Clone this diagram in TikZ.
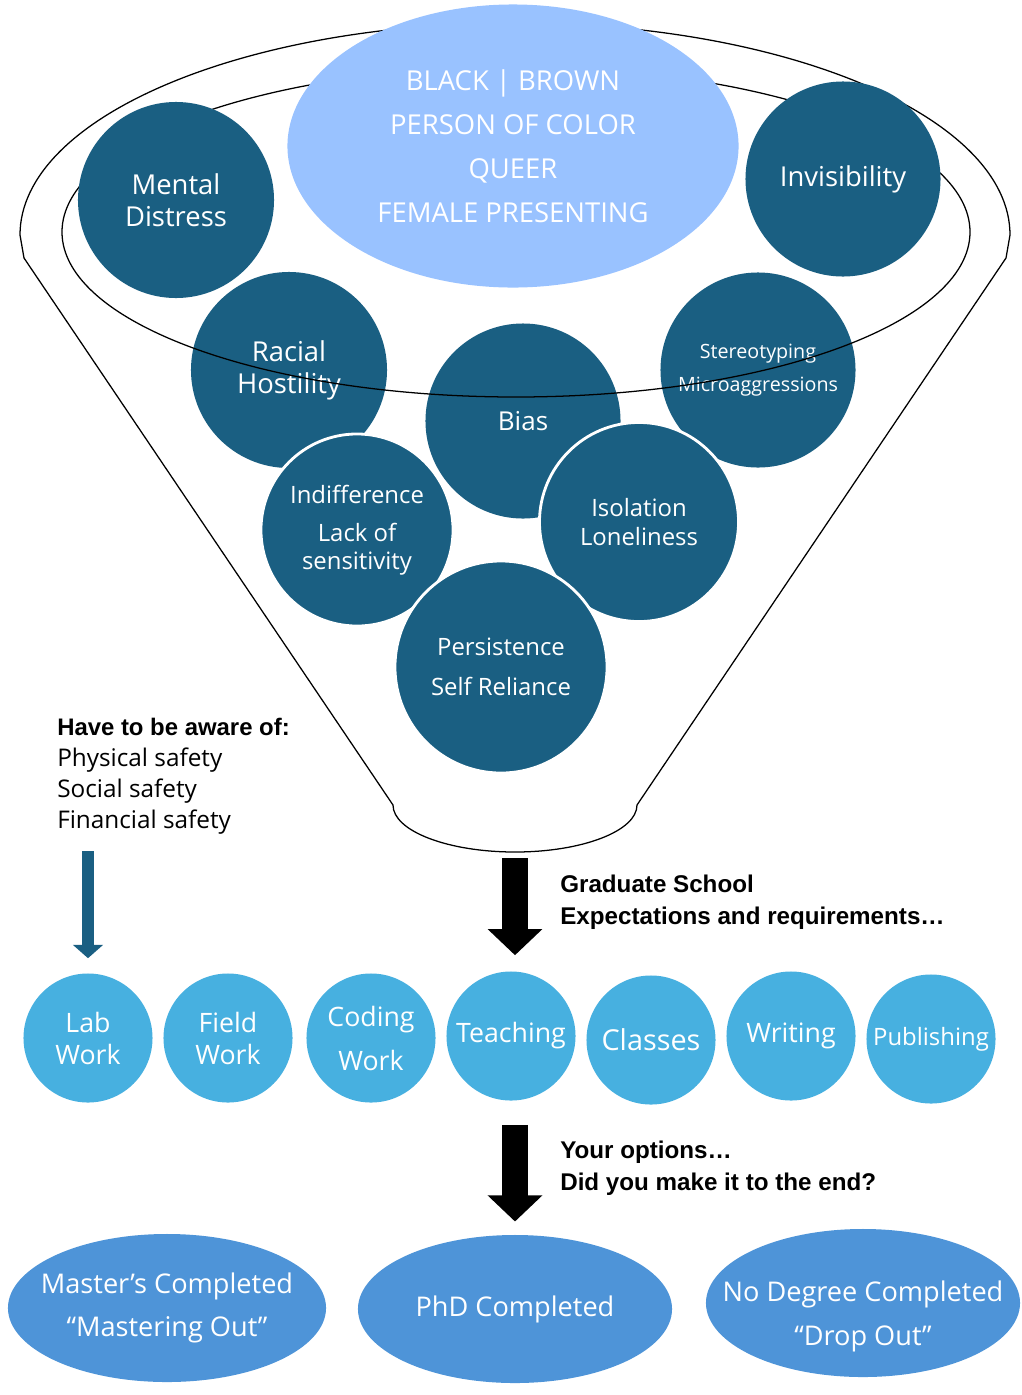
\documentclass[tikz,border=0pt]{standalone}
\usepackage{fontspec}
\setmainfont{Open Sans}
\newfontfamily\headfont{Liberation Sans}
\usetikzlibrary{
  arrows.meta,
  shapes.geometric
}
\definecolor{identityBlue}{HTML}{99C2FF}
\definecolor{barrierTeal}{HTML}{1A5F82}
\definecolor{taskCyan}{HTML}{47B0E0}
\definecolor{outcomeBlue}{HTML}{4E94D8}
\tikzset{
  barrierCircle/.style={
    circle,
    fill=barrierTeal,
    text=white,
    align=center,
    inner sep=0pt,
    minimum size=4.875cm,
    font=\fontsize{19.5}{22.8}\selectfont
  },
  ringedCircle/.style={barrierCircle, draw=white, line width=2pt},
  identityOval/.style={
    ellipse,
    fill=identityBlue,
    text=white,
    align=center,
    inner sep=0pt,
    minimum width=11.275cm,
    minimum height=7.075cm,
    font=\fontsize{19.5}{31.3}\selectfont
  },
  taskCircle/.style={
    circle,
    fill=taskCyan,
    text=white,
    align=center,
    inner sep=0pt,
    minimum size=3.225cm,
    font=\fontsize{19}{22.8}\selectfont
  },
  outcomeOval/.style={
    ellipse,
    fill=outcomeBlue,
    text=white,
    align=center,
    inner xsep=-1.2cm,
    inner ysep=-0.6cm,
    minimum width=7.85cm,
    minimum height=3.7cm,
    font=\fontsize{19.3}{31}\selectfont
  },
  funnelLine/.style={black, line width=0.9pt},
  noteText/.style={anchor=west, align=left, inner sep=0pt, font=\fontsize{17}{22.8}\selectfont},
  blockArrow/.style={black, line width=17.8pt, -{Triangle[width=37.7pt, length=18.5pt]}},
  awareArrow/.style={barrierTeal, line width=9pt, -{Triangle[width=21pt, length=9.5pt]}}
}

\begin{document}
\begin{tikzpicture}[x=0.025cm, y=-0.025cm]
  \fill[white] (0,0) rectangle (1021,1395);
  \useasboundingbox (0,0) rectangle (1021,1395);

  % barriers lying under the rim of the funnel
  \node[barrierCircle, minimum size=4.9cm] (hostility) at (289,370) {Racial\\Hostility};
  \node[barrierCircle, font=\fontsize{18.5}{22.8}\selectfont] (bias) at (523,421) {Bias};
  \node[barrierCircle, font=\fontsize{14}{23.5}\selectfont] (stereotype) at (758,370) {Stereotyping\\Microaggressions};

  % funnel body and rim
  \draw[funnelLine] (24,258) -- (20,235)
    arc[start angle=180, end angle=360, x radius=495, y radius=212]
    -- (1006,258) -- (637,805)
    arc[start angle=0, end angle=180, x radius=122, y radius=47] -- cycle;
  \draw[funnelLine] (516,232) ellipse[x radius=454, y radius=165];

  \node[barrierCircle, minimum size=4.9cm] (distress) at (176,200) {Mental\\Distress};
  \node[identityOval] (identity) at (513,146)
    {BLACK | BROWN\\PERSON OF COLOR\\QUEER\\FEMALE PRESENTING};
  \node[barrierCircle] (invisibility) at (843,179) {Invisibility};

  \node[ringedCircle, minimum size=4.8cm, font=\fontsize{17}{20}\selectfont] (indifference) at (357,530)
    {Indifference\\[7pt]Lack of\\sensitivity};
  \node[ringedCircle, minimum size=4.975cm, font=\fontsize{17}{20.6}\selectfont] (isolation) at (639,522)
    {Isolation\\Loneliness};
  \node[ringedCircle, minimum size=5.3cm, font=\fontsize{17}{28.5}\selectfont] (persistence) at (501,667)
    {Persistence\\Self Reliance};
  \coordinate (funnelTip) at (515,852);

  \node[noteText, font=\fontsize{17.3}{22}\selectfont] (aware) at (57,776)
    {{\headfont\bfseries\fontsize{17}{22}\selectfont Have to be aware of:}\\Physical safety\\Social safety\\Financial safety};

  % what graduate school asks for
  \node[taskCircle] (lab) at (88,1038) {Lab\\Work};
  \node[taskCircle] (field) at (228,1038) {Field\\Work};
  \node[taskCircle, font=\fontsize{19}{31.3}\selectfont] (coding) at (371,1038) {Coding\\Work};
  \node[taskCircle] (teaching) at (511,1036) {Teaching};
  \node[taskCircle, font=\fontsize{20.5}{24}\selectfont] (classes) at (651,1040) {Classes};
  \node[taskCircle] (writing) at (791,1036) {Writing};
  \node[taskCircle, font=\fontsize{17}{20}\selectfont] (publishing) at (931,1039) {Publishing};

  \node[noteText, font=\headfont\bfseries\fontsize{17.2}{22.8}\selectfont] (gradNote) at (560,902)
    {Graduate School\\Expectations and requirements…};
  \node[noteText, font=\headfont\bfseries\fontsize{17.2}{22.8}\selectfont] (optionsNote) at (560,1168)
    {Your options…\\Did you make it to the end?};

  % possible outcomes
  \node[outcomeOval, minimum width=7.95cm] (masters) at (167,1308) {Master’s Completed\\“Mastering Out”};
  \node[outcomeOval] (phd) at (515,1309) {PhD Completed};
  \node[outcomeOval] (nodegree) at (863,1303) {\rule{0pt}{34pt}No Degree Completed\\“Drop Out”};

  \draw[awareArrow, shorten <=0.42cm, shorten >=0.375cm] (lab.north |- aware.south) -- (lab.north);
  \draw[blockArrow, shorten <=0.15cm, shorten >=0.4cm] (funnelTip) -- (funnelTip |- teaching.north);
  \draw[blockArrow, shorten <=0.6cm, shorten >=0.33cm] (phd.north |- teaching.south) -- (phd.north);
\end{tikzpicture}
\end{document}
